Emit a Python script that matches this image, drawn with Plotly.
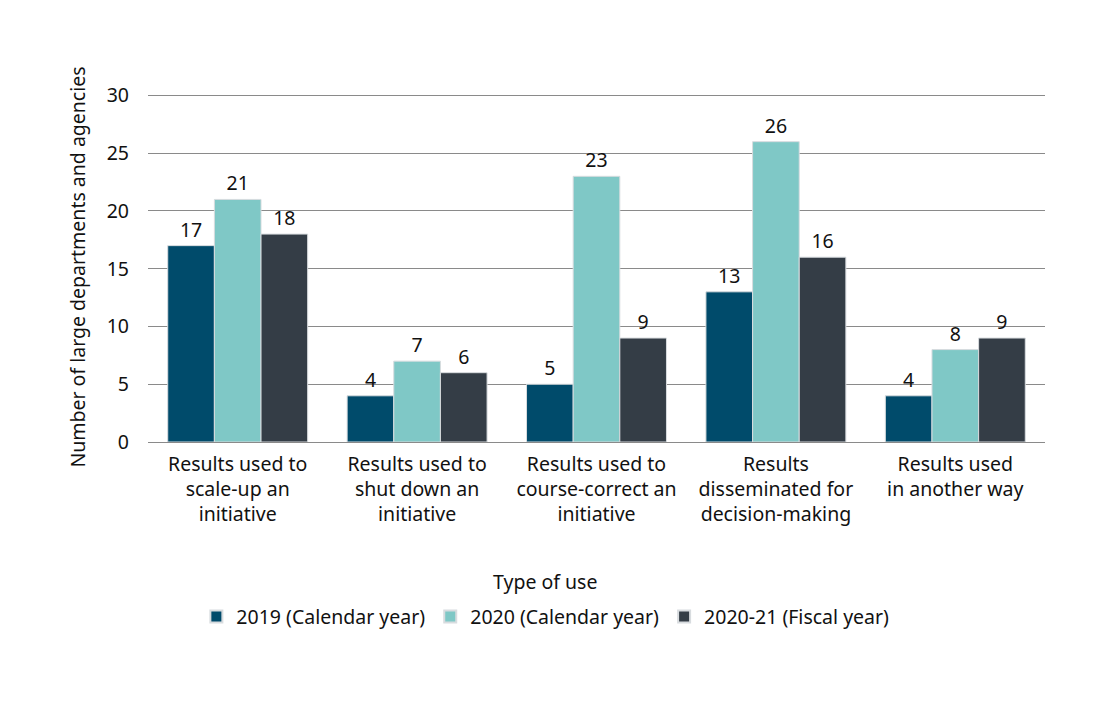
import plotly.graph_objects as go

categories = ["Results used to<br>scale-up an<br>initiative",
              "Results used to<br>shut down an<br>initiative",
              "Results used to<br>course-correct an<br>initiative",
              "Results<br>disseminated for<br>decision-making",
              "Results used<br>in another way"]
series_names = ["2019 (Calendar year)", "2020 (Calendar year)", "2020-21 (Fiscal year)"]
v2019 = [17, 4, 5, 13, 4]
v2020 = [21, 7, 23, 26, 8]
v2021 = [18, 6, 9, 16, 9]
colors = ["#004b6b", "#7fc8c6", "#343d46"]
yticks = [0, 5, 10, 15, 20, 25, 30]

FONT = "Noto Sans, Open Sans, sans-serif"
FS = 19.5
PX = 347 / 30.0  # pixels per unit
YMAX = 30.3

# page body has an 8px margin; offset margins accordingly
fig = go.Figure()
for name, vals, c in zip(series_names, [v2019, v2020, v2021], colors):
    fig.add_trace(go.Bar(
        x=categories, y=vals, name=name,
        marker=dict(color=c, line=dict(color="#d8dcdf", width=1)),
        text=[str(v) for v in vals], textposition="outside",
        textfont=dict(size=FS, color="#111", family=FONT),
        cliponaxis=False,
    ))

plot_h = YMAX * PX
top = 442 - plot_h - 8

fig.update_layout(
    width=1100, height=705,
    paper_bgcolor="white", plot_bgcolor="white",
    barmode="group", bargap=0.22, bargroupgap=0,
    margin=dict(l=140, r=63, t=top, b=271),
    font=dict(family=FONT, size=FS, color="#111"),
    showlegend=True,
    legend=dict(orientation="h", xref="paper", yref="paper",
                x=0.443, xanchor="center", y=-(617 - 442) / plot_h, yanchor="middle",
                font=dict(size=FS), itemsizing="constant", traceorder="normal",
                itemwidth=30),
    yaxis=dict(range=[0, YMAX], tickvals=yticks, showgrid=True,
               gridcolor="#8a8a8a", gridwidth=1.3, zeroline=False,
               showline=False, ticks="", ticklabelstandoff=18,
               tickfont=dict(size=FS),
               title=dict(text="Number of large departments and agencies",
                          font=dict(size=FS), standoff=15)),
    xaxis=dict(showline=True, linecolor="#8a8a8a", linewidth=1.3,
               ticks="", tickfont=dict(size=FS), ticklabelstandoff=4),
    annotations=[dict(text="Type of use", xref="paper", yref="paper",
                      x=0.443, y=-(582 - 442) / plot_h, xanchor="center",
                      yanchor="middle", showarrow=False, font=dict(size=FS))],
)

fig.write_html("out.html")
